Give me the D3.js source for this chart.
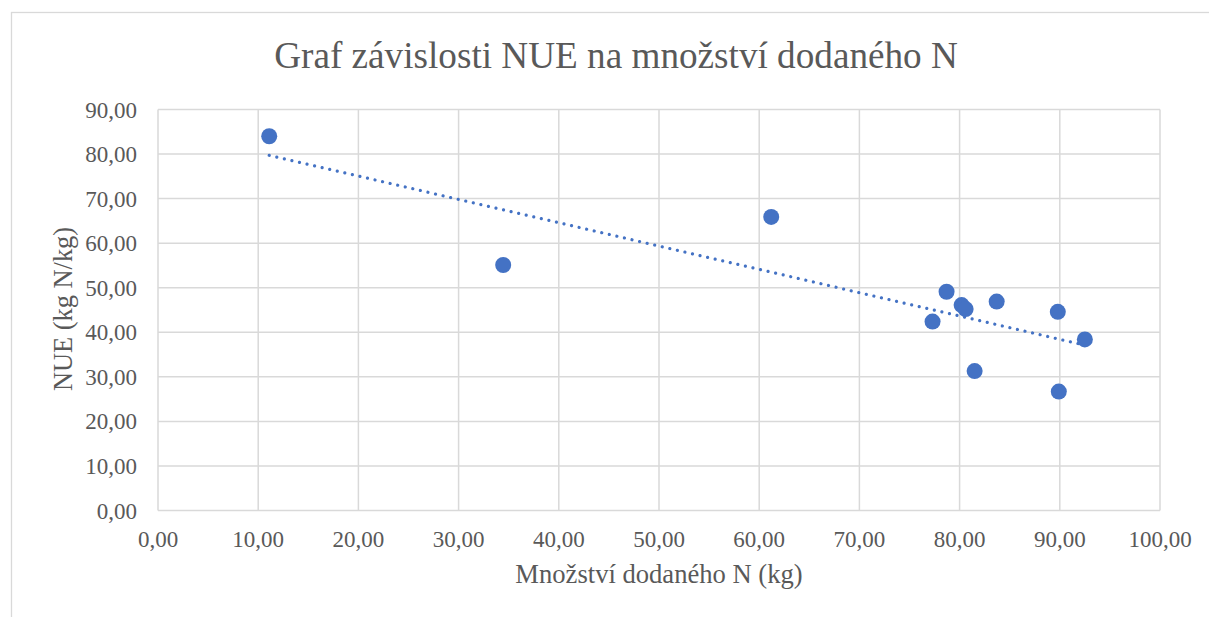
<!DOCTYPE html>
<html>
<head>
<meta charset="utf-8">
<script src="https://cdn.jsdelivr.net/npm/d3@7"></script>
<style>
  html, body { margin: 0; padding: 0; background: #ffffff; }
  svg { display: block; }
  text { font-family: "Liberation Serif", "Times New Roman", Tinos, "DejaVu Serif", serif; fill: #595959; }
</style>
</head>
<body>
<svg id="chart" width="1209" height="617"></svg>
<script>
// ---- data ----
const titleText = "Graf závislosti NUE na množství dodaného N";
const xAxisTitle = "Množství dodaného N (kg)";
const yAxisTitle = "NUE (kg N/kg)";
const nSupplied = [11.1, 34.45, 61.2, 78.7, 80.2, 80.6, 77.3, 83.7, 89.8, 92.5, 81.5, 89.9];
const nueValues = [84.0, 55.1, 65.9, 49.1, 46.1, 45.2, 42.4, 46.9, 44.6, 38.4, 31.3, 26.7];
const xTicks = [0, 10, 20, 30, 40, 50, 60, 70, 80, 90, 100];
const yTicks = [0, 10, 20, 30, 40, 50, 60, 70, 80, 90];

const fmt = v => v.toFixed(2).replace(".", ",");

const svg = d3.select("#chart");
const W = 1209, H = 617;

// outer chart border (extends beyond the viewport as in the reference)
svg.append("rect")
  .attr("x", 11.5).attr("y", 12.5)
  .attr("width", W + 20).attr("height", H + 20)
  .attr("fill", "#ffffff").attr("stroke", "#d9d9d9").attr("stroke-width", 1.3);

const plot = { left: 158, right: 1160, top: 109.5, bottom: 510.5 };
const x = d3.scaleLinear().domain([0, 100]).range([plot.left, plot.right]);
const y = d3.scaleLinear().domain([0, 90]).range([plot.bottom, plot.top]);

// gridlines
const g = svg.append("g");
g.selectAll("line.vg").data(xTicks).enter().append("line")
  .attr("x1", d => x(d)).attr("x2", d => x(d))
  .attr("y1", plot.top).attr("y2", plot.bottom)
  .attr("stroke", "#d9d9d9").attr("stroke-width", 1.5);
g.selectAll("line.hg").data(yTicks).enter().append("line")
  .attr("y1", d => y(d)).attr("y2", d => y(d))
  .attr("x1", plot.left).attr("x2", plot.right)
  .attr("stroke", "#d9d9d9").attr("stroke-width", 1.5);

// tick labels
svg.selectAll("text.xt").data(xTicks).enter().append("text")
  .attr("x", d => x(d)).attr("y", 547)
  .attr("text-anchor", "middle").attr("font-size", 23)
  .text(fmt);
svg.selectAll("text.yt").data(yTicks).enter().append("text")
  .attr("x", 137).attr("y", d => y(d) + 8)
  .attr("text-anchor", "end").attr("font-size", 23)
  .text(fmt);

// title & axis titles
svg.append("text").attr("x", 616).attr("y", 68)
  .attr("text-anchor", "middle").attr("font-size", 37.2).text(titleText);
svg.append("text").attr("x", 659).attr("y", 583)
  .attr("text-anchor", "middle").attr("font-size", 26.6).text(xAxisTitle);
svg.append("text")
  .attr("transform", "translate(72,309) rotate(-90)")
  .attr("text-anchor", "middle").attr("font-size", 26.4).text(yAxisTitle);

// linear trendline (least squares)
const mx = d3.mean(nSupplied), my = d3.mean(nueValues);
let sxy = 0, sxx = 0;
nSupplied.forEach((v, i) => { sxy += (v - mx) * (nueValues[i] - my); sxx += (v - mx) * (v - mx); });
const slope = sxy / sxx, icpt = my - slope * mx;
const x0 = d3.min(nSupplied), x1 = d3.max(nSupplied);
svg.append("line")
  .attr("x1", x(x0)).attr("y1", y(slope * x0 + icpt))
  .attr("x2", x(x1)).attr("y2", y(slope * x1 + icpt))
  .attr("stroke", "#4472c4").attr("stroke-width", 3.2)
  .attr("stroke-linecap", "round").attr("stroke-dasharray", "0.01 7.75");

// points
svg.selectAll("circle.pt").data(nSupplied).enter().append("circle")
  .attr("cx", d => x(d)).attr("cy", (d, i) => y(nueValues[i]))
  .attr("r", 8).attr("fill", "#4472c4");
</script>
</body>
</html>
